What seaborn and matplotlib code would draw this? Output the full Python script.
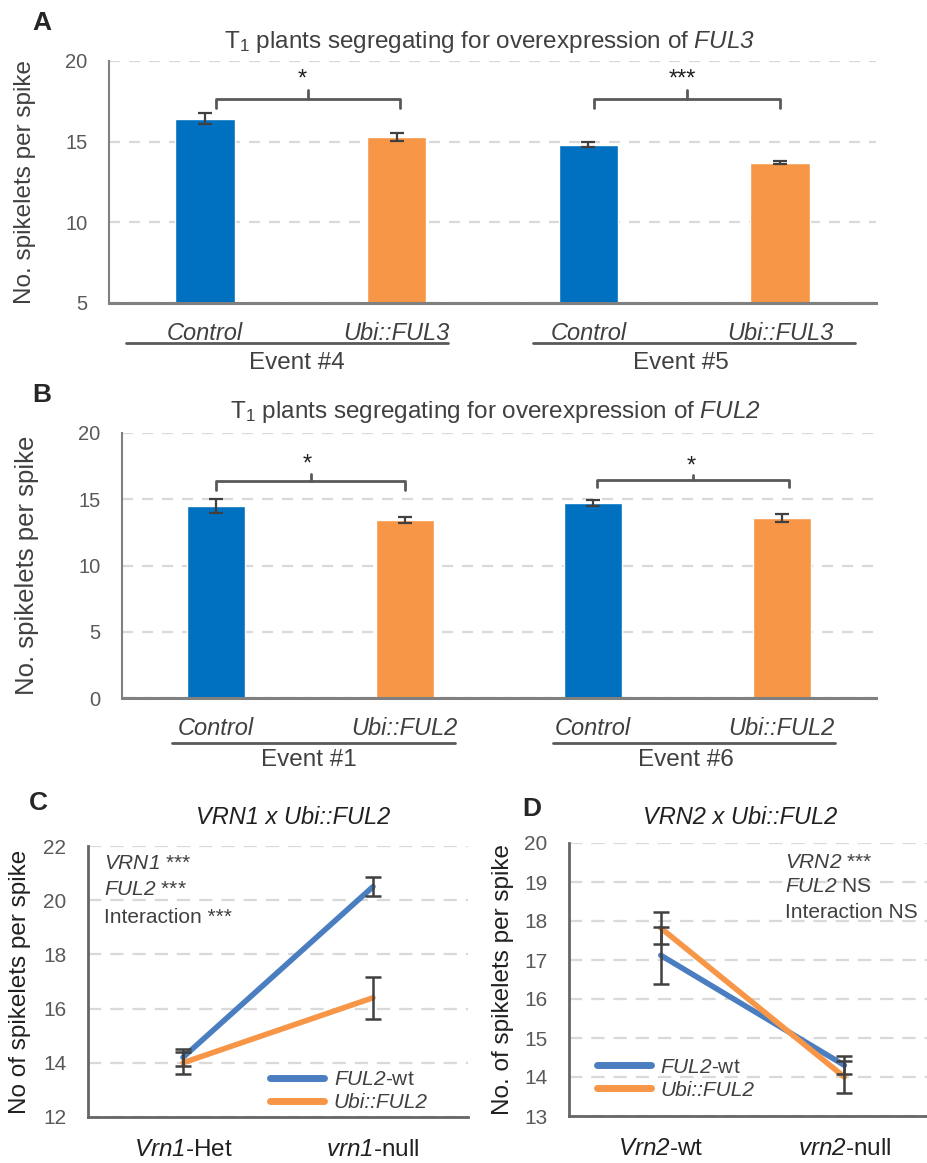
import numpy as np
import pandas as pd
import matplotlib
matplotlib.use("Agg")
import matplotlib.pyplot as plt
import matplotlib.transforms as mtransforms
import seaborn as sns

# ---------------- data ----------------
a_ids = ["E4 Control", "E4 Ubi::FUL3", "E5 Control", "E5 Ubi::FUL3"]
a_labels = ["Control", "Ubi::FUL3", "Control", "Ubi::FUL3"]
a_means = [16.43, 15.29, 14.81, 13.70]
a_sem = [0.33, 0.26, 0.16, 0.08]
a_events = ["Event #4", "Event #5"]
a_sig = ["*", "***"]

b_ids = ["E1 Control", "E1 Ubi::FUL2", "E6 Control", "E6 Ubi::FUL2"]
b_labels = ["Control", "Ubi::FUL2", "Control", "Ubi::FUL2"]
b_means = [14.47, 13.46, 14.72, 13.58]
b_sem = [0.52, 0.22, 0.26, 0.27]
b_events = ["Event #1", "Event #6"]
b_sig = ["*", "*"]

series_names = ["FUL2-wt", "Ubi::FUL2"]

c_genotypes = [r"$\mathsf{Vrn1}$-Het", r"$\mathsf{vrn1}$-null"]
c_wt = [14.2, 20.5]
c_wt_sem = [0.3, 0.35]
c_ubi = [14.0, 16.4]
c_ubi_sem = [0.4, 0.77]
c_stats = [r"$\mathsf{VRN1}$ ***", r"$\mathsf{FUL2}$ ***", "Interaction ***"]

d_genotypes = [r"$\mathsf{Vrn2}$-wt", r"$\mathsf{vrn2}$-null"]
d_wt = [17.12, 14.3]
d_wt_sem = [0.73, 0.23]
d_ubi = [17.82, 14.0]
d_ubi_sem = [0.4, 0.41]
d_stats = [r"$\mathsf{VRN2}$ ***", r"$\mathsf{FUL2}$ NS", "Interaction NS"]

# ---------------- style ----------------
sns.set_theme(style="white")
plt.rcParams["font.family"] = ["Liberation Sans", "DejaVu Sans"]
plt.rcParams["mathtext.fontset"] = "custom"
plt.rcParams["mathtext.rm"] = "Liberation Sans"
plt.rcParams["mathtext.it"] = "Liberation Sans:italic"
plt.rcParams["mathtext.sf"] = "Liberation Sans:italic"
plt.rcParams["mathtext.bf"] = "Liberation Sans:bold"

BLUE = "#0070C0"
ORANGE = "#F79646"
LBLUE = "#4A7EC0"
LORANGE = "#F79646"
ERR = "#404040"
TXT = "#404040"
TICK = "#595959"
GRID = "#d9d9d9"
SPINE = "#808080"

W, H = 927, 1163
fig = plt.figure(figsize=(W / 100, H / 100), dpi=100)
fig.patch.set_facecolor("white")


def px_axes(l, t, r, b):
    return fig.add_axes([l / W, 1 - b / H, (r - l) / W, (b - t) / H])


def fy(py):
    return 1 - py / H


def style_axes(ax, tick_fs, dash):
    for s in ["top", "right"]:
        ax.spines[s].set_visible(False)
    ax.spines["left"].set_color(SPINE)
    ax.spines["left"].set_linewidth(1.5)
    ax.spines["bottom"].set_color(SPINE)
    ax.spines["bottom"].set_linewidth(2.2)
    ax.yaxis.grid(True, color=GRID, linestyle=(0, dash), linewidth=1.6)
    ax.xaxis.grid(False)
    ax.set_axisbelow(True)
    ax.tick_params(axis="y", length=0, pad=15.5, labelsize=tick_fs, labelcolor=TICK)
    ax.set_facecolor("white")


def bar_panel(ax, ids, labels, means, sems, events, sig, ylim, yticks,
              brackets, star_pos, event_lines, event_x, y_under, y_event,
              ylabel_fs, ylabel_x):
    df = pd.DataFrame({"id": ids, "mean": means})
    sns.barplot(data=df, x="id", y="mean", hue="id",
                palette=[BLUE, ORANGE, BLUE, ORANGE], width=0.31,
                saturation=1, legend=False, errorbar=None, ax=ax)
    ax.errorbar(range(len(means)), means, yerr=sems, fmt="none", ecolor=ERR,
                elinewidth=1.6, capsize=5, capthick=1.6, zorder=3)
    ax.set_ylim(*ylim)
    ax.set_xlim(-0.5, 3.5)
    ax.set_yticks(yticks)
    style_axes(ax, 14.5, (5, 4))
    ax.set_xticks(range(len(labels)))
    ax.set_xticklabels(labels, fontstyle="italic", fontsize=17, color=TXT)
    ax.tick_params(axis="x", length=0, pad=14)
    ax.set_xlabel("")
    ax.set_ylabel("No. spikelets per spike", fontsize=ylabel_fs, color=TXT)
    ax.yaxis.label.set_va("center")
    ax.yaxis.set_label_coords(ylabel_x, 0.5)
    # significance brackets
    for (x0, x1, xm, lo, hh, top) in brackets:
        ax.plot([x0, x0, x1, x1], [lo, hh, hh, lo], color=TICK, lw=2,
                solid_joinstyle="round", zorder=4)
        ax.plot([xm, xm], [hh, top], color=TICK, lw=2, zorder=4)
    for s, (sx, sy) in zip(sig, star_pos):
        ax.text(sx, sy, s, ha="center", va="baseline", fontsize=17, color="#202020")
    # event group lines and labels
    tr = mtransforms.blended_transform_factory(ax.transData, fig.transFigure)
    for ev, (u0, u1), ex in zip(events, event_lines, event_x):
        ax.plot([u0, u1], [fy(y_under), fy(y_under)], transform=tr, color=TICK,
                lw=2, clip_on=False)
        ax.text(ex, fy(y_event), ev, transform=tr, ha="center", va="center",
                fontsize=17.5, color=TXT)


# ---------------- panel A ----------------
axA = px_axes(109, 61, 876, 303)
bar_panel(axA, a_ids, a_labels, a_means, a_sem, a_events, a_sig,
          ylim=(5, 20), yticks=[5, 10, 15, 20],
          brackets=[(0.06, 1.02, 0.54, 17.11, 17.67, 18.22),
                    (2.03, 3.00, 2.515, 17.11, 17.67, 18.22)],
          star_pos=[(0.506, 18.5), (2.49, 18.5)],
          event_lines=[(-0.41, 1.27), (1.71, 3.39)], event_x=[0.48, 2.48],
          y_under=343, y_event=363, ylabel_fs=17.5, ylabel_x=-0.109)
fig.text(42 / W, fy(23), "A", fontsize=19, fontweight="bold", ha="center", va="center")
fig.text(490 / W, fy(42), r"T$_1$ plants segregating for overexpression of $\mathsf{FUL3}$",
         fontsize=17.5, ha="center", va="center", color=TXT)

# ---------------- panel B ----------------
axB = px_axes(122, 433, 876, 698)
bar_panel(axB, b_ids, b_labels, b_means, b_sem, b_events, b_sig,
          ylim=(0, 20), yticks=[0, 5, 10, 15, 20],
          brackets=[(0.0, 1.0, 0.5, 15.72, 16.35, 16.9),
                    (2.02, 3.04, 2.53, 15.92, 16.48, 16.8)],
          star_pos=[(0.48, 17.2), (2.52, 17.0)],
          event_lines=[(-0.235, 1.267), (1.786, 3.283)], event_x=[0.49, 2.49],
          y_under=743, y_event=760, ylabel_fs=18.5, ylabel_x=-0.126)
fig.text(42 / W, fy(395), "B", fontsize=19, fontweight="bold", ha="center", va="center")
fig.text(495 / W, fy(412), r"T$_1$ plants segregating for overexpression of $\mathsf{FUL2}$",
         fontsize=17.5, ha="center", va="center", color=TXT)


# ---------------- line panels ----------------
def line_panel(ax, genos, wt, wt_sem, ubi, ubi_sem, stats, ylim, yticks, xlim,
               ylabel, ylabel_x, stats_xy, leg_anchor):
    df = pd.DataFrame({
        "pos": [0, 1, 0, 1],
        "val": list(wt) + list(ubi),
        "series": [series_names[0]] * 2 + [series_names[1]] * 2,
    })
    sns.lineplot(data=df, x="pos", y="val", hue="series",
                 palette=[LBLUE, LORANGE], linewidth=4, ax=ax,
                 errorbar=None, solid_capstyle="round")
    ax.errorbar([0, 1], wt, yerr=wt_sem, fmt="none", ecolor=ERR,
                elinewidth=1.8, capsize=6, capthick=1.8, zorder=4)
    ax.errorbar([0, 1], ubi, yerr=ubi_sem, fmt="none", ecolor=ERR,
                elinewidth=1.8, capsize=6, capthick=1.8, zorder=4)
    ax.set_xlim(*xlim)
    ax.set_ylim(*ylim)
    ax.set_yticks(yticks)
    style_axes(ax, 15, (6, 4))
    ax.spines["left"].set_color("#666666")
    ax.spines["bottom"].set_color("#666666")
    ax.spines["left"].set_linewidth(2)
    ax.spines["bottom"].set_linewidth(2)
    ax.set_xticks([0, 1])
    ax.set_xticklabels(genos, fontsize=17.5, color="#202020")
    ax.tick_params(axis="x", length=0, pad=16)
    ax.set_xlabel("")
    ax.set_ylabel(ylabel, fontsize=17.5, color="#202020")
    ax.yaxis.label.set_va("center")
    ax.yaxis.set_label_coords(ylabel_x, 0.5)
    sx, sys_ = stats_xy
    for t, yy in zip(stats, sys_):
        ax.text(sx, yy, t, transform=ax.transAxes, ha="left", va="center",
                fontsize=15, color=TXT)
    leg = ax.legend(loc="center left", bbox_to_anchor=leg_anchor, frameon=False,
                    fontsize=15, handlelength=2.6, handletextpad=0.45,
                    labelspacing=0.2, borderpad=0, borderaxespad=0)
    for h in leg.get_lines():
        h.set_linewidth(5)
        h.set_solid_capstyle("round")
    texts = leg.get_texts()
    texts[0].set_text(r"$\mathsf{FUL2}$-wt")
    texts[1].set_fontstyle("italic")
    for t in texts:
        t.set_color(TXT)


axC = px_axes(88, 846, 468, 1117)
line_panel(axC, c_genotypes, c_wt, c_wt_sem, c_ubi, c_ubi_sem, c_stats,
           ylim=(12, 22), yticks=[12, 14, 16, 18, 20, 22], xlim=(-0.5, 1.5),
           ylabel="No of spikelets per spike", ylabel_x=-0.179,
           stats_xy=(0.042, [0.937, 0.838, 0.738]), leg_anchor=(0.479, 0.095))
fig.text(38 / W, fy(803), "C", fontsize=19, fontweight="bold", ha="center", va="center")
fig.text(293 / W, fy(818), "VRN1 x Ubi::FUL2", fontstyle="italic", fontsize=17,
         ha="center", va="center", color="#202020")

axD = px_axes(569, 843, 927, 1116)
line_panel(axD, d_genotypes, d_wt, d_wt_sem, d_ubi, d_ubi_sem, d_stats,
           ylim=(13, 20), yticks=list(range(13, 21)), xlim=(-0.5, 1.45),
           ylabel="No. of spikelets per spike", ylabel_x=-0.184,
           stats_xy=(0.603, [0.930, 0.839, 0.747]), leg_anchor=(0.078, 0.137))
fig.text(532 / W, fy(809), "D", fontsize=19, fontweight="bold", ha="center", va="center")
fig.text(740 / W, fy(817), "VRN2 x Ubi::FUL2", fontstyle="italic", fontsize=17,
         ha="center", va="center", color="#202020")

fig.savefig("out.png", dpi=100, facecolor="white")
